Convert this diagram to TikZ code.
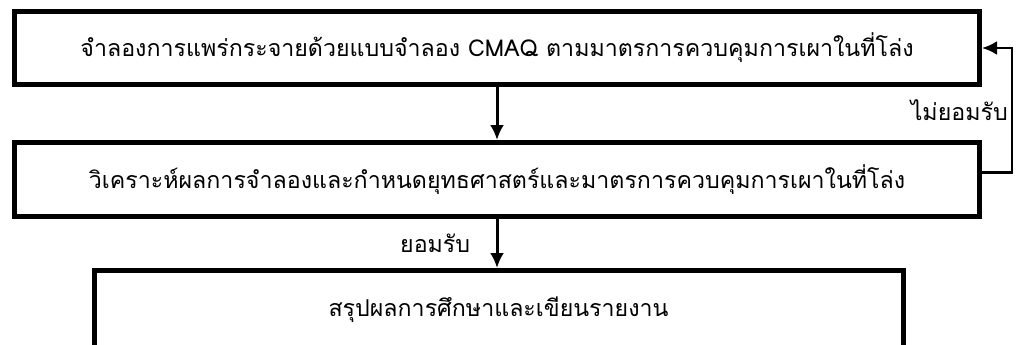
\documentclass[tikz,border=0pt]{standalone}
\usepackage{fontspec}
\newfontfamily\thaifont[Script=Thai]{Loma}
\usetikzlibrary{positioning}
\usetikzlibrary{arrows.meta}

\begin{document}
\begin{tikzpicture}[x=1pt,y=-1pt,
        every node/.style={font=\thaifont\fontsize{23.2}{28}\selectfont},
        stepbox/.style={draw,rectangle,line width=5pt,minimum height=74pt,inner sep=0pt},
        link/.style={-{Latex[length=15pt,width=14pt]},line width=3pt}]
   \useasboundingbox (0,0) rectangle (1017,345);
   \node[stepbox,minimum width=965pt,minimum height=73pt] (sim) at (497,48) {จำลองการแพร่กระจายด้วยแบบจำลอง CMAQ ตามมาตรการควบคุมการเผาในที่โล่ง};
   \node[stepbox,minimum width=965pt] (ana) at (497,179.5) {วิเคราะห์ผลการจำลองและกำหนดยุทธศาสตร์และมาตรการควบคุมการเผาในที่โล่ง};
   \node[stepbox,minimum width=809pt,minimum height=79pt] (sum) at (498.5,310) {สรุปผลการศึกษาและเขียนรายงาน};
   \draw[link] (sim) -- (ana);
   \draw[link] (ana) -- node[left=22pt] {ยอมรับ} (ana |- sum.north);
   \draw[link,line width=2.5pt] ([yshift=7pt]ana.east) -- ++(30,0) |- node[pos=0.25,left,inner sep=3pt] {ไม่ยอมรับ} (sim.east);
\end{tikzpicture}
\end{document}
